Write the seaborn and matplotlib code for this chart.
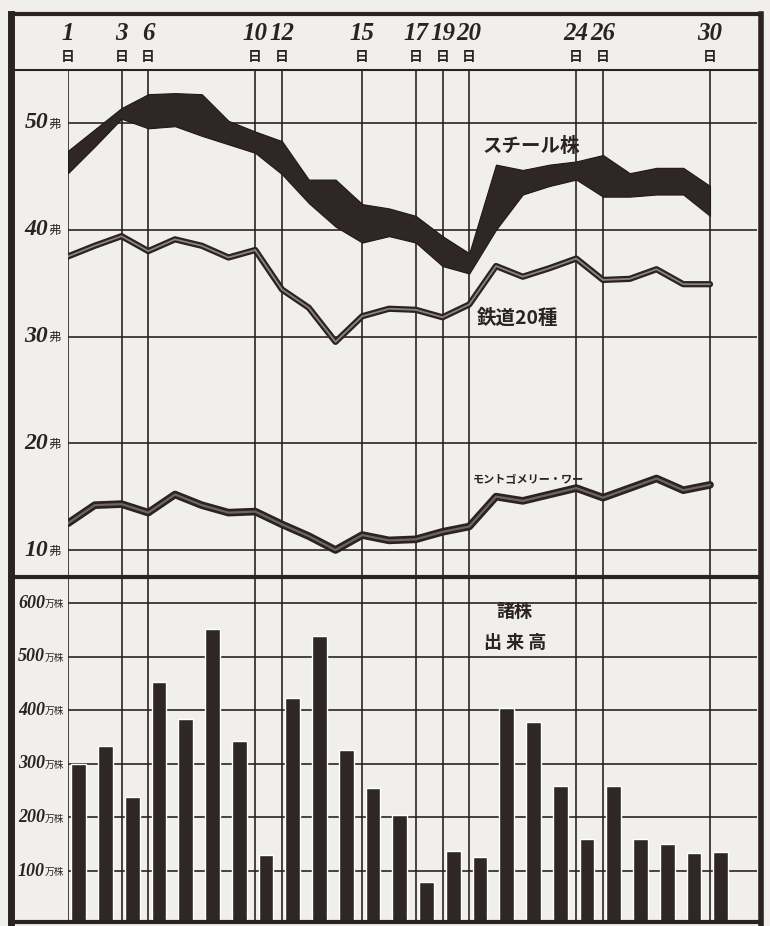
import numpy as np
import pandas as pd
import matplotlib
matplotlib.use("Agg")
import matplotlib.pyplot as plt
import matplotlib.transforms as mtrans
import matplotlib.patheffects as pe
from matplotlib.lines import Line2D
import seaborn as sns

# ---------------- data ----------------
day_labels = [1, 3, 6, 10, 12, 15, 17, 19, 20, 24, 26, 30]
day_index = [0, 2, 3, 7, 8, 11, 13, 14, 15, 19, 20, 24]

steel_high = [47.4, 49.4, 51.4, 52.7, 52.8, 52.7, 50.2, 49.2, 48.3, 44.7, 44.7, 42.4, 42.0,
              41.3, 39.4, 37.8, 46.1, 45.6, 46.1, 46.4, 47.0, 45.3, 45.8, 45.8, 44.1]
steel_low = [45.3, 47.8, 50.4, 49.5, 49.7, 48.8, 48.0, 47.2, 45.2, 42.5, 40.3, 38.8, 39.4,
             38.8, 36.6, 35.9, 40.0, 43.3, 44.1, 44.7, 43.1, 43.1, 43.3, 43.3, 41.3]
rail20 = [37.5, 38.5, 39.4, 38.0, 39.1, 38.5, 37.4, 38.1, 34.4, 32.7, 29.5, 31.9, 32.6,
          32.5, 31.8, 33.0, 36.6, 35.6, 36.4, 37.3, 35.3, 35.4, 36.3, 34.9, 34.9]
ward = [12.5, 14.2, 14.3, 13.5, 15.2, 14.2, 13.5, 13.6, 12.4, 11.3, 10.0, 11.4, 10.9,
        11.0, 11.7, 12.2, 15.0, 14.6, 15.2, 15.8, 14.9, 15.8, 16.7, 15.6, 16.1]
volume = [300, 333, 238, 452, 384, 552, 343, 129, 422, 539, 325, 254, 204,
          79, 137, 126, 404, 378, 258, 159, 258, 159, 150, 134, 135]

price_ticks = [10, 20, 30, 40, 50]
volume_ticks = [100, 200, 300, 400, 500, 600]

# ---------------- style ----------------
sns.set_theme(style="white")
plt.rcParams["font.family"] = ["DejaVu Sans", "Noto Sans CJK JP"]
PAPER = "#f1efec"
INK = "#2b2323"
CJK = ["Noto Sans CJK JP", "DejaVu Sans"]
NUM = "Liberation Serif"

W, H = 770, 926
fig = plt.figure(figsize=(W / 100, H / 100), dpi=100, facecolor=PAPER)


def fx(px):
    return px / W


def fy(py):
    return 1 - py / H


X0, X1 = 68, 757
STEP = 26.75
xmax = (X1 - X0) / STEP

ax = fig.add_axes([fx(X0), fy(577), fx(X1) - fx(X0), fy(70) - fy(577)], facecolor=PAPER)
ax2 = fig.add_axes([fx(X0), fy(921), fx(X1) - fx(X0), fy(577) - fy(921)], facecolor=PAPER)

idx = np.arange(len(volume))
df = pd.DataFrame({"idx": idx, "high": steel_high, "low": steel_low,
                   "rail": rail20, "ward": ward, "vol": volume,
                   "barx": idx + 0.4})

# ---------- grids ----------
for a in (ax, ax2):
    for sp in a.spines.values():
        sp.set_visible(False)
    a.set_xticks([])
    a.set_yticks([])
    for d in day_index:
        a.axvline(d, color=INK, lw=1.2, zorder=1)

for t in price_ticks:
    ax.axhline(t, color=INK, lw=1.2, zorder=1)

# ---------- upper panel ----------
ax.fill_between(df["idx"], df["low"], df["high"], color="#2f2727", lw=0.8,
                edgecolor="#1f1818", zorder=3)

sns.lineplot(data=df, x="idx", y="rail", ax=ax, color="#8c8383", lw=1.3, zorder=4)
ax.lines[-1].set_path_effects([pe.Stroke(linewidth=4.5, foreground=INK), pe.Normal()])
sns.lineplot(data=df, x="idx", y="ward", ax=ax, color="#6e6565", lw=1.6, zorder=4)
ax.lines[-1].set_path_effects([pe.Stroke(linewidth=5.5, foreground=INK), pe.Normal()])

ax.set_xlim(0, xmax)
ax.set_ylim((656.75 - 577) / 10.675, (656.75 - 70) / 10.675)
ax.set_xlabel("")
ax.set_ylabel("")

ax.text(17.3, 47.8, "スチール株", family=CJK, fontsize=14, fontweight="bold",
        color=INK, ha="center", va="center", zorder=5)
ax.text(16.8, 31.7, "鉄道20種", family=CJK, fontsize=14, fontweight="bold",
        color=INK, ha="center", va="center", zorder=5)
ax.text(17.2, 16.6, "モントゴメリー・ワー", family=CJK, fontsize=8, fontweight="bold",
        color=INK, ha="center", va="center", zorder=5)

# ---------- lower panel ----------
for t in volume_ticks:
    ax2.axhline(t, color=INK, lw=1.2, zorder=1)

sns.barplot(data=df, x="barx", y="vol", ax=ax2, native_scale=True, width=0.55,
            color="#2f2727", saturation=1, zorder=3)
ax2.set_xlim(0, xmax)
ax2.set_ylim((924.6 - 921) / 0.536, (924.6 - 577) / 0.536)
ax2.set_xticks([])
ax2.set_yticks([])
ax2.set_xlabel("")
ax2.set_ylabel("")

ax2.text(16.7, 585, "諸株", family=CJK, fontsize=13, fontweight="bold",
         color=INK, ha="center", va="center", zorder=5)
ax2.text(16.7, 527, "出 来 高", family=CJK, fontsize=13, fontweight="bold",
         color=INK, ha="center", va="center", zorder=5)

# ---------- axis labels ----------
tr1 = mtrans.blended_transform_factory(fig.transFigure, ax.transData)
for t in price_ticks:
    fig.text(fx(48), t, f"{t}", transform=tr1, fontsize=17, fontweight="bold",
             style="italic", family=NUM, color=INK, ha="right", va="center")
    fig.text(fx(48), t - 0.1, "弗", transform=tr1, fontsize=9, family=CJK,
             color=INK, ha="left", va="center")

tr2 = mtrans.blended_transform_factory(fig.transFigure, ax2.transData)
for t in volume_ticks:
    fig.text(fx(45), t, f"{t}", transform=tr2, fontsize=13, fontweight="bold",
             style="italic", family=NUM, color=INK, ha="right", va="center")
    fig.text(fx(45), t - 2, "万株", transform=tr2, fontsize=7, family=CJK,
             color=INK, ha="left", va="center")

trh = mtrans.blended_transform_factory(ax.transData, fig.transFigure)
for d, i in zip(day_labels, day_index):
    fig.text(i, fy(34), f"{d}", transform=trh, fontsize=18, fontweight="bold",
             style="italic", family=NUM, color=INK, ha="center", va="center")
    fig.text(i, fy(57), "日", transform=trh, fontsize=10, fontweight="bold",
             family=CJK, color=INK, ha="center", va="center")

# ---------- frame ----------
def fline(x0, y0, x1, y1, lw):
    fig.add_artist(Line2D([fx(x0), fx(x1)], [fy(y0), fy(y1)], color=INK, lw=lw,
                          transform=fig.transFigure, solid_capstyle="projecting"))


fline(11, 14, 761, 14, 3)
fline(11, 14, 11, 926, 5)
fline(761, 14, 761, 926, 4)
fline(11, 922, 761, 922, 3)
fline(11, 70, 761, 70, 1.5)
fline(11, 577, 761, 577, 3)

fig.savefig("out.png", dpi=100, facecolor=PAPER)
